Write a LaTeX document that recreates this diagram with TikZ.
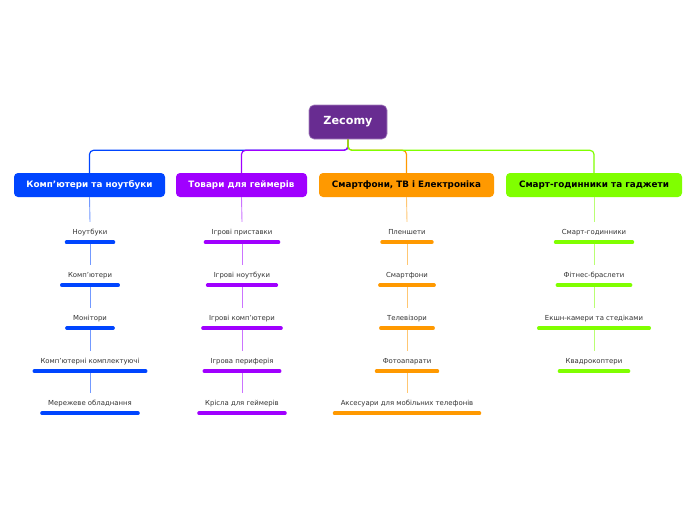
\documentclass[tikz,border=0pt]{standalone}
\usepackage{fontspec}
\setmainfont{DejaVu Sans}
\definecolor{rootc}{HTML}{682C91}
\definecolor{bluec}{HTML}{0045FF}
\definecolor{purc}{HTML}{A000FF}
\definecolor{orac}{HTML}{FF9900}
\definecolor{grnc}{HTML}{80FF00}
\definecolor{txt}{HTML}{333333}
\tikzset{
  rootbox/.style={fill=rootc, draw=rootc!60!white, line width=0.6pt, rounded corners=5pt, text=white,
    font=\fontsize{11.2}{13}\selectfont\bfseries, minimum width=78pt, minimum height=34pt, inner sep=0pt},
  catbox/.style={fill=#1, rounded corners=4pt, minimum height=24pt, inner sep=0pt,
    font=\fontsize{8.8}{10}\selectfont\bfseries},
  item/.style={font=\fontsize{6.9}{8}\selectfont, text=txt, text height=5.75pt, text depth=0.75pt,
    inner ysep=6.75pt, inner xsep=6pt},
  uline/.style={draw=#1, line width=3.6pt, line cap=round},
  vline/.style={draw=#1!55!white, line width=0.9pt},
  mline/.style={draw=#1, line width=1.2pt, rounded corners=4pt},
}
\begin{document}
\begin{tikzpicture}[x=1pt,y=-1pt]
\useasboundingbox[fill=white] (0,0) rectangle (696,520);

\node[rootbox] (root) at (348,122) {Zecomy};

\node[catbox=bluec, text=white, minimum width=151pt] (c1) at (89.5,185) {Комп'ютери та ноутбуки};
\node[catbox=purc, text=white, minimum width=131pt] (c2) at (241.5,185) {Товари для геймерів};
\node[catbox=orac, text=black, minimum width=175pt] (c3) at (406.5,185) {Смартфони, ТВ і Електроніка};
\node[catbox=grnc, text=black, minimum width=176pt] (c4) at (594,185) {Смарт-годинники та гаджети};

\draw[mline=bluec] (root.south) -- ++(0,11) -| (c1.north);
\draw[mline=purc] (root.south) -- ++(0,11) -| (c2.north);
\draw[mline=orac] (root.south) -- ++(0,11) -| (c3.north);
\draw[mline=grnc] (root.south) -- ++(0,11) -| (c4.north);

% column 1
\node[item] (a1) at (90,232) {Ноутбуки};
\node[item] (a2) at (90,275) {Комп'ютери};
\node[item] (a3) at (90,318) {Монітори};
\node[item] (a4) at (90,361) {Комп'ютерні комплектуючі};
\node[item] (a5) at (90,403) {Мережеве обладнання};
% column 2
\node[item] (b1) at (242,232) {Ігрові приставки};
\node[item] (b2) at (242,275) {Ігрові ноутбуки};
\node[item] (b3) at (242,318) {Ігрові комп'ютери};
\node[item] (b4) at (242,361) {Ігрова периферія};
\node[item] (b5) at (242,403) {Крісла для геймерів};
% column 3
\node[item] (d1) at (407,232) {Пленшети};
\node[item] (d2) at (407,275) {Смартфони};
\node[item] (d3) at (407,318) {Телевізори};
\node[item] (d4) at (407,361) {Фотоапарати};
\node[item] (d5) at (407,403) {Аксесуари для мобільних телефонів};
% column 4
\node[item] (e1) at (594,232) {Смарт-годинники};
\node[item] (e2) at (594,275) {Фітнес-браслети};
\node[item] (e3) at (594,318) {Екшн-камери та стедіками};
\node[item] (e4) at (594,361) {Квадрокоптери};

% vertical connectors
\draw[vline=bluec] (c1.south) -- (a1.north);
\draw[vline=bluec] (a1.south) -- (a2.north);
\draw[vline=bluec] (a2.south) -- (a3.north);
\draw[vline=bluec] (a3.south) -- (a4.north);
\draw[vline=bluec] (a4.south) -- (a5.north);
\draw[vline=purc] (c2.south) -- (b1.north);
\draw[vline=purc] (b1.south) -- (b2.north);
\draw[vline=purc] (b2.south) -- (b3.north);
\draw[vline=purc] (b3.south) -- (b4.north);
\draw[vline=purc] (b4.south) -- (b5.north);
\draw[vline=orac] (c3.south) -- (d1.north);
\draw[vline=orac] (d1.south) -- (d2.north);
\draw[vline=orac] (d2.south) -- (d3.north);
\draw[vline=orac] (d3.south) -- (d4.north);
\draw[vline=orac] (d4.south) -- (d5.north);
\draw[vline=grnc] (c4.south) -- (e1.north);
\draw[vline=grnc] (e1.south) -- (e2.north);
\draw[vline=grnc] (e2.south) -- (e3.north);
\draw[vline=grnc] (e3.south) -- (e4.north);

% underlines
\foreach \n in {a1,a2,a3,a4,a5} \draw[uline=bluec] (\n.south west) -- (\n.south east);
\foreach \n in {b1,b2,b3,b4,b5} \draw[uline=purc] (\n.south west) -- (\n.south east);
\foreach \n in {d1,d2,d3,d4,d5} \draw[uline=orac] (\n.south west) -- (\n.south east);
\foreach \n in {e1,e2,e3,e4} \draw[uline=grnc] (\n.south west) -- (\n.south east);
\end{tikzpicture}
\end{document}
